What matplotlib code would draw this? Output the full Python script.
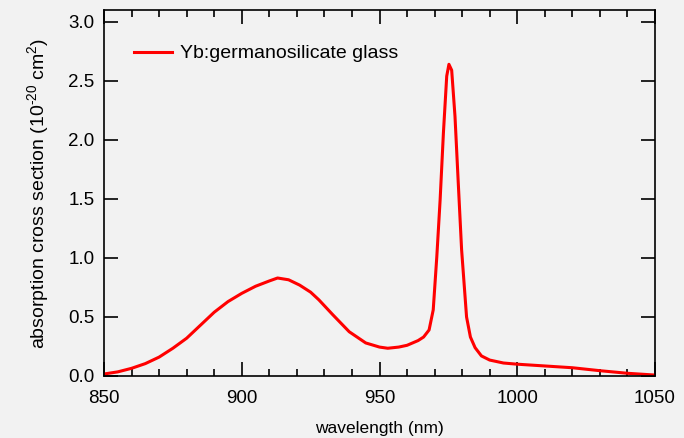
import numpy as np
import matplotlib.pyplot as plt
from matplotlib.ticker import MultipleLocator

plt.rcParams['font.family'] = ['Liberation Sans', 'DejaVu Sans']
plt.rcParams['mathtext.fontset'] = 'custom'
plt.rcParams['mathtext.rm'] = 'Liberation Sans'
plt.rcParams['mathtext.it'] = 'Liberation Sans'

# wavelength (nm) and absorption cross section (1e-20 cm^2)
wl = [850, 855, 860, 865, 870, 875, 880, 885, 890, 895, 900, 905, 910, 913,
      917, 921, 925, 928, 933, 939, 945, 950, 953, 957, 960, 964, 966, 968,
      969.5, 970.8, 972, 973.2, 974.4, 975.2, 976.2, 977.4, 978.6, 979.8,
      981.6, 983, 984.7, 987, 990, 995, 1000, 1010, 1020, 1030, 1040, 1050]
sigma = [0.017, 0.035, 0.065, 0.105, 0.16, 0.235, 0.32, 0.43, 0.54, 0.63,
         0.70, 0.76, 0.805, 0.83, 0.815, 0.77, 0.71, 0.645, 0.52, 0.375,
         0.28, 0.245, 0.235, 0.245, 0.26, 0.30, 0.33, 0.39, 0.56, 1.01,
         1.49, 2.06, 2.54, 2.64, 2.59, 2.20, 1.63, 1.07, 0.50, 0.33, 0.24,
         0.17, 0.135, 0.11, 0.10, 0.085, 0.07, 0.045, 0.023, 0.008]

bg = '#f2f2f2'
fig = plt.figure(figsize=(6.84, 4.38), dpi=100, facecolor=bg)
ax = fig.add_axes([104/684, 62/438, 551/684, 366/438], facecolor=bg)

ax.plot(wl, sigma, color='#ff0000', lw=2.2, label='Yb:germanosilicate glass')

ax.set_xlim(850, 1050)
ax.set_ylim(0, 3.1)
ax.xaxis.set_major_locator(MultipleLocator(50))
ax.xaxis.set_minor_locator(MultipleLocator(10))
ax.yaxis.set_major_locator(MultipleLocator(0.5))
ax.yaxis.set_major_formatter(plt.FormatStrFormatter('%.1f'))

ax.tick_params(which='both', direction='in', top=True, right=True,
               width=1.2, labelsize=13.5, color='black')
ax.tick_params(axis='x', which='major', length=10, pad=10)
ax.tick_params(axis='y', which='major', length=10, pad=7)
ax.tick_params(which='minor', length=5)
for s in ax.spines.values():
    s.set_linewidth(1.2)

ax.set_xlabel('wavelength (nm)', fontsize=12.5, labelpad=10)
ax.set_ylabel('absorption cross section (10$^{\\text{-20}}$ cm$^{2}$)', fontsize=14, labelpad=12)

ax.legend(loc='upper left', bbox_to_anchor=(0.023, 0.953), frameon=False,
          fontsize=14, handlelength=1.96, handletextpad=0.4)

fig.savefig('out.png', dpi=100, facecolor=bg)
